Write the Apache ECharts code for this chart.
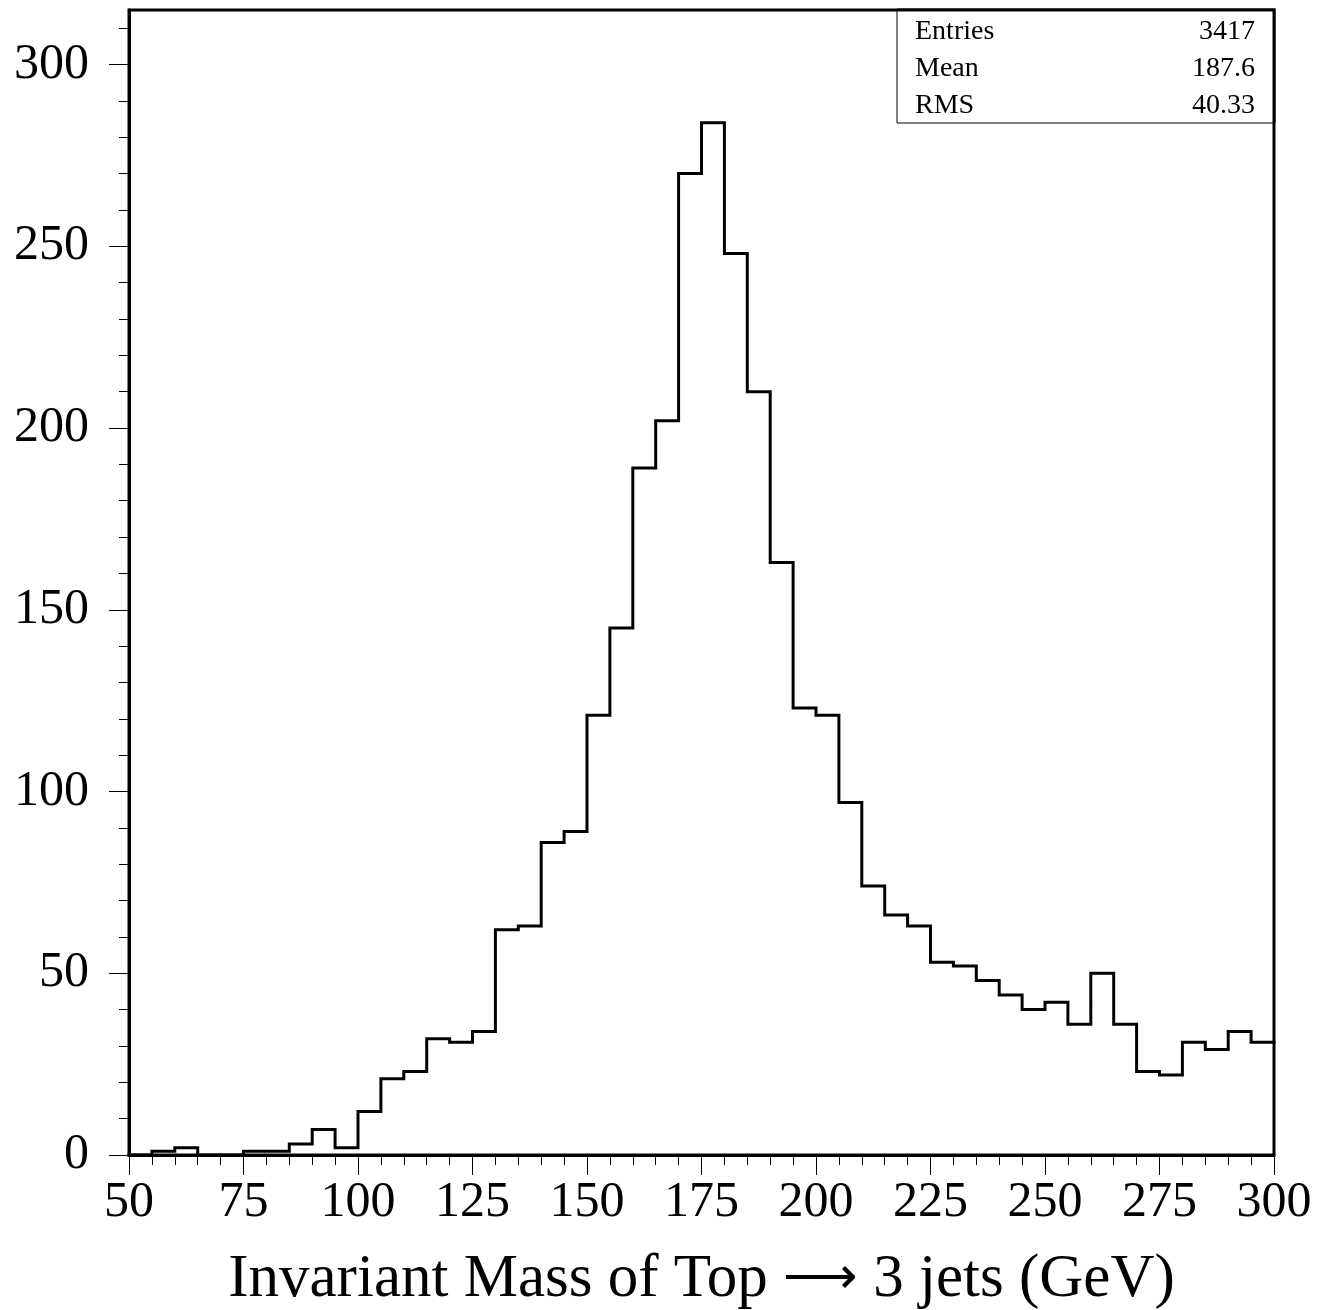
<!DOCTYPE html>
<html>
<head>
<meta charset="utf-8">
<script src="https://cdn.jsdelivr.net/npm/echarts@6/dist/echarts.min.js"></script>
<style>
html,body{margin:0;padding:0;background:#fff;}
#chart{width:1330px;height:1310px;}
</style>
</head>
<body>
<div id="chart"></div>
<script>
// Histogram: 50 bins of width 5 GeV from 50 to 300
const binLow = 50;
const binWidth = 5;
const counts = [
  0, 1, 2, 0, 0, 1, 1, 3, 7, 2,
  12, 21, 23, 32, 31, 34, 62, 63, 86, 89,
  121, 145, 189, 202, 270, 284, 248, 210, 163, 123,
  121, 97, 74, 66, 63, 53, 52, 48, 44, 40,
  42, 36, 50, 36, 23, 22, 31, 29, 34, 31
];
const xTickLabels = [50, 75, 100, 125, 150, 175, 200, 225, 250, 275, 300];
const yTickLabels = [0, 50, 100, 150, 200, 250, 300];
const yMinorTicks = [10, 20, 30, 40, 60, 70, 80, 90, 110, 120, 130, 140, 160, 170, 180, 190, 210, 220, 230, 240, 260, 270, 280, 290, 310];
const statsNames = ['Entries', 'Mean', 'RMS'];
const statsValues = ['3417', '187.6', '40.33'];
const xTitleParts = ['Invariant Mass of Top', '\u27F6', '3 jets (GeV)'];

const FONT = '"Liberation Serif", "DejaVu Serif", serif';

const stepData = counts.map((c, i) => [binLow + i * binWidth, c]);
stepData.push([binLow + counts.length * binWidth, counts[counts.length - 1]]);

const gridLeft = 129, gridTop = 10, gridRight = 56, gridBottom = 155;
const W = 1330, H = 1310;
const plotRight = W - gridRight;

const boxX = 897, boxY = gridTop, boxW = plotRight - 897, boxH = 113;
const statGraphics = [{
  type: 'rect',
  shape: {x: boxX, y: boxY, width: boxW, height: boxH},
  style: {fill: '#fff', stroke: '#000', lineWidth: 1},
  z: 10
}];
statsNames.forEach((n, i) => {
  const cy = boxY + 22 + 37 * i;
  statGraphics.push({
    type: 'text', x: boxX + 18, y: cy, z: 11,
    style: {text: n, font: '28px ' + FONT, fill: '#000', textAlign: 'left', textVerticalAlign: 'middle'}
  });
  statGraphics.push({
    type: 'text', x: plotRight - 19, y: cy, z: 11,
    style: {text: statsValues[i], font: '28px ' + FONT, fill: '#000', textAlign: 'right', textVerticalAlign: 'middle'}
  });
});
// redraw frame top/right over the box
statGraphics.push({
  type: 'polyline', z: 12,
  shape: {points: [[boxX, gridTop], [plotRight, gridTop], [plotRight, gridTop + boxH]]},
  style: {stroke: '#000', lineWidth: 3, fill: null}
});

const chart = echarts.init(document.getElementById('chart'), null, {renderer: 'canvas'});
chart.setOption({
  animation: false,
  backgroundColor: '#fff',
  grid: {
    left: gridLeft, top: gridTop, right: gridRight, bottom: gridBottom,
    containLabel: false,
    outerBoundsMode: 'none',
    show: true, borderColor: '#000', borderWidth: 3, backgroundColor: 'transparent'
  },
  xAxis: {
    type: 'value', min: 50, max: 300, interval: 25,
    position: 'bottom',
    axisLine: {show: true, onZero: false, lineStyle: {color: '#000', width: 3}},
    axisTick: {show: true, inside: false, length: 20, lineStyle: {color: '#000', width: 1}},
    minorTick: {show: true, splitNumber: 5, length: 10, lineStyle: {color: '#000', width: 1}},
    splitLine: {show: false},
    minorSplitLine: {show: false},
    axisLabel: {
      show: true, margin: 23, color: '#000', fontFamily: FONT, fontSize: 50,
      customValues: xTickLabels
    },
    name: '{a|' + xTitleParts[0] + ' }{b|' + xTitleParts[1] + '}{a| ' + xTitleParts[2] + '}',
    nameLocation: 'middle',
    nameGap: 94,
    nameTextStyle: {
      color: '#000', fontFamily: FONT, fontSize: 61,
      rich: {
        a: {fontFamily: FONT, fontSize: 61, color: '#000'},
        b: {fontFamily: '"DejaVu Sans"', fontSize: 52, color: '#000', fontWeight: 'lighter'}
      }
    }
  },
  yAxis: [{
    type: 'value', min: 0, max: 315,
    position: 'left',
    axisLine: {show: true, onZero: false, lineStyle: {color: '#000', width: 3}},
    axisTick: {show: true, inside: false, length: 20, lineStyle: {color: '#000', width: 1}, customValues: yTickLabels},
    splitLine: {show: false},
    axisLabel: {
      show: true, margin: 40, color: '#000', fontFamily: FONT, fontSize: 50,
      customValues: yTickLabels
    }
  }, {
    type: 'value', min: 0, max: 315,
    position: 'left',
    axisLine: {show: false},
    axisTick: {show: true, inside: false, length: 10, lineStyle: {color: '#000', width: 1}, customValues: yMinorTicks},
    splitLine: {show: false},
    axisLabel: {show: false}
  }],
  series: [{
    type: 'line',
    xAxisIndex: 0,
    yAxisIndex: 0,
    data: stepData,
    step: 'end',
    showSymbol: false,
    symbol: 'none',
    lineStyle: {color: '#000', width: 3, join: 'miter', cap: 'square'},
    silent: true,
    z: 3
  }],
  graphic: statGraphics
});
</script>
</body>
</html>
